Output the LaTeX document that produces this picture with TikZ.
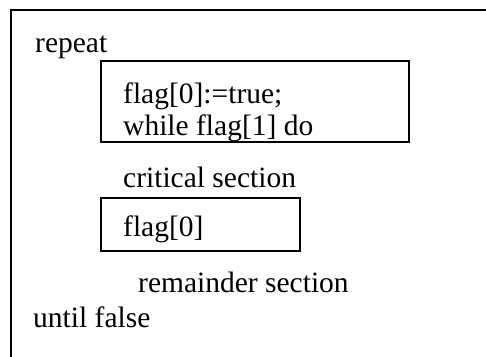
\documentclass[tikz,border=0pt]{standalone}
\usepackage{fontspec}
\setmainfont{Liberation Serif}
\begin{document}
\begin{tikzpicture}[x=1bp,y=-1bp,
  code/.style={anchor=base west,inner sep=0pt,font=\fontsize{29.5bp}{32bp}\selectfont},
  frame/.style={draw=black,line width=2bp},
  codebox/.style={frame,rectangle,inner sep=0pt,anchor=north west}]
\clip (0,0) rectangle (486,356);
\useasboundingbox (0,0) rectangle (486,356);
% outer frame (right and bottom edges lie outside the picture)
\coordinate (olb) at (11,400);
\coordinate (olt) at (11,10);
\coordinate (ort) at (520,10);
\draw[frame] (olb) -- (olt) -- (ort);
\node[code] (repeat) at (35,52) {repeat};
% first box, text clipped by its edge
\path (100,60) coordinate (b1nw) (408,141) coordinate (b1se);
\begin{scope}
  \clip (b1nw) rectangle (b1se);
  \node[code] (l1) at (123,103) {flag[0]:=true;};
  \node[code] (l2) at (123,135) {while flag[1] do};
\end{scope}
\node[codebox,minimum width=308bp,minimum height=81bp] (box1) at (b1nw) {};
\node[code] (crit) at (123,187) {critical section};
\node[codebox,minimum width=199bp,minimum height=53bp] (box2) at (100,197) {};
\node[code] (l3) at (123,236) {flag[0]};
\node[code] (rem) at (138,292) {remainder section};
\node[code] (until) at (33,327) {until false};
\end{tikzpicture}
\end{document}
